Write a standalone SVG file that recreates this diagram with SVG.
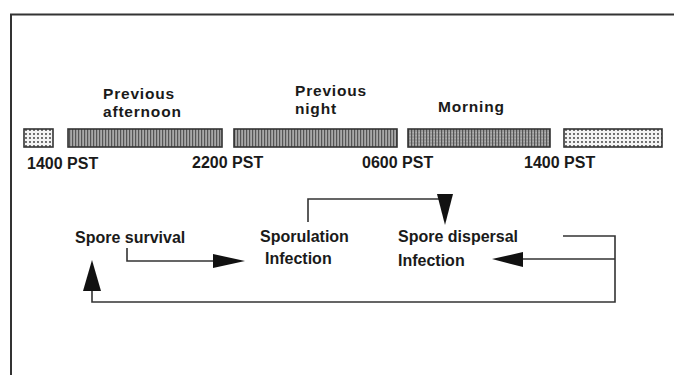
<svg xmlns="http://www.w3.org/2000/svg" width="674" height="375" viewBox="0 0 674 375">
<defs>
<pattern id="stripes" width="3" height="4" patternUnits="userSpaceOnUse">
<rect width="3" height="4" fill="#a8a8a8"/>
<rect width="1.2" height="4" fill="#555"/>
</pattern>
<pattern id="stripes2" width="3" height="3" patternUnits="userSpaceOnUse">
<rect width="3" height="3" fill="#b0b0b0"/>
<rect width="1.2" height="3" fill="#555"/>
<rect x="1.5" y="1.5" width="1" height="1" fill="#666"/>
</pattern>
<pattern id="dots" width="4" height="4" patternUnits="userSpaceOnUse">
<rect width="4" height="4" fill="#f4f4f4"/>
<circle cx="2" cy="2" r="0.9" fill="#333"/>
</pattern>
<style>
.bar{stroke:#333;stroke-width:1.6}
.hd{font-family:"Liberation Sans",Arial,sans-serif;font-weight:bold;font-size:15.5px;fill:#1a1a1a;letter-spacing:0.8px}
.tm{font-family:"Liberation Sans",Arial,sans-serif;font-weight:bold;font-size:16px;fill:#1a1a1a}
.lb{font-family:"Liberation Sans",Arial,sans-serif;font-weight:bold;font-size:16px;fill:#1a1a1a}
.ln{fill:none;stroke:#333;stroke-width:1.6}
.ah{fill:#111}
</style>
</defs>
<rect width="674" height="375" fill="#fff"/>
<g id="frame">
<path d="M11 375 V14.5 H674" fill="none" stroke="#333" stroke-width="2"/>
</g>
<g id="bars">
<rect class="bar" x="24" y="129" width="29" height="18" fill="url(#dots)"/>
<rect class="bar" x="68" y="129" width="154" height="18" fill="url(#stripes)"/>
<rect class="bar" x="234" y="129" width="163" height="18" fill="url(#stripes)"/>
<rect class="bar" x="408" y="129" width="142" height="18" fill="url(#stripes2)"/>
<rect class="bar" x="564" y="129" width="98" height="18" fill="url(#dots)"/>
</g>
<g id="periods">
<text class="hd" x="103" y="99">Previous</text>
<text class="hd" x="103" y="116.5">afternoon</text>
<text class="hd" x="295" y="96">Previous</text>
<text class="hd" x="295" y="113.5">night</text>
<text class="hd" x="438" y="112">Morning</text>
</g>
<g id="times">
<text class="tm" x="27" y="169">1400 PST</text>
<text class="tm" x="192" y="168">2200 PST</text>
<text class="tm" x="362" y="168">0600 PST</text>
<text class="tm" x="524" y="168">1400 PST</text>
</g>
<g id="node-survival"><text class="lb" x="75" y="243">Spore survival</text></g>
<g id="node-sporulation">
<text class="lb" x="260" y="242">Sporulation</text>
<text class="lb" x="265" y="264">Infection</text>
</g>
<g id="node-dispersal">
<text class="lb" x="398" y="242">Spore dispersal</text>
<text class="lb" x="398" y="266">Infection</text>
</g>
<g id="connectors">
<path class="ln" d="M127 248 V261 H215"/>
<polygon class="ah" points="213,254 245,261 213,268"/>
<path class="ln" d="M308 222 V199 H440"/>
<polygon class="ah" points="437,194 453,194 445,225"/>
<path class="ln" d="M563 236 H615 V302 H92 V289"/>
<path class="ln" d="M615 259 H522"/>
<polygon class="ah" points="523,252 523,267 492,259"/>
<polygon class="ah" points="83,291 101,291 92,260"/>
</g>
</svg>
